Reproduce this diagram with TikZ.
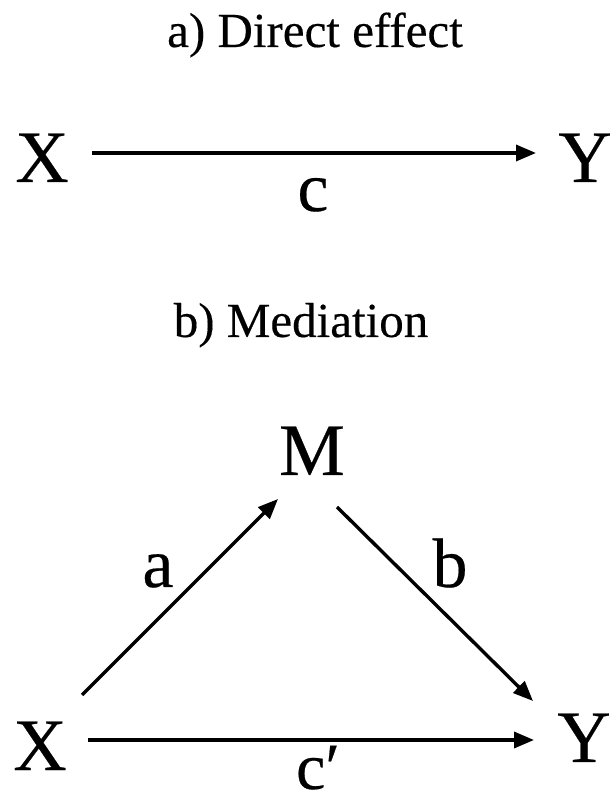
\documentclass[tikz,border=0pt]{standalone}
\usepackage{fontspec}
\setmainfont{Liberation Serif}[FakeBold=0.3]
\usetikzlibrary{arrows.meta}
\begin{document}
\begin{tikzpicture}[x=1pt,y=1pt,
  var/.style={inner sep=0pt,anchor=base,font=\fontsize{74}{74}\selectfont},
  lab/.style={inner sep=0pt,anchor=base,font=\fontsize{70}{70}\selectfont},
  ttl/.style={inner sep=0pt,anchor=base,font=\fontsize{49}{49}\selectfont},
  arr/.style={line width=3.4pt,-{Triangle[length=20pt,width=16pt]}}]
\useasboundingbox (0,0) rectangle (612,804);
% a) direct effect
\node[ttl] (t1) at (315,757) {a) Direct effect};
\node[var] (X1) at (42,622) {X};
\node[var] (Y1) at (585,622) {Y};
\coordinate (x1e) at (92,651);
\coordinate (y1w) at (536,651);
\draw[arr] (x1e) -- (y1w);
\node[lab] (c1) at (313,593) {c};
% b) mediation
\node[ttl] (t2) at (301,467) {b) Mediation};
\node[var] (M) at (312,329) {M};
\node[var] (X2) at (40,34) {X};
\node[var] (Y2) at (584,42) {Y};
\coordinate (aS) at (82,109);
\coordinate (aE) at (278,305);
\coordinate (bS) at (337,297);
\coordinate (bE) at (533,103);
\coordinate (cS) at (88,64);
\coordinate (cE) at (534,64);
\draw[arr] (aS) -- (aE);
\draw[arr] (bS) -- (bE);
\draw[arr] (cS) -- (cE);
\node[lab] (la) at (158,217) {a};
\node[lab] (lb) at (450,217) {b};
\node[lab,font=\fontsize{66}{66}\selectfont] (lc) at (318,15) {c′};
\end{tikzpicture}
\end{document}
